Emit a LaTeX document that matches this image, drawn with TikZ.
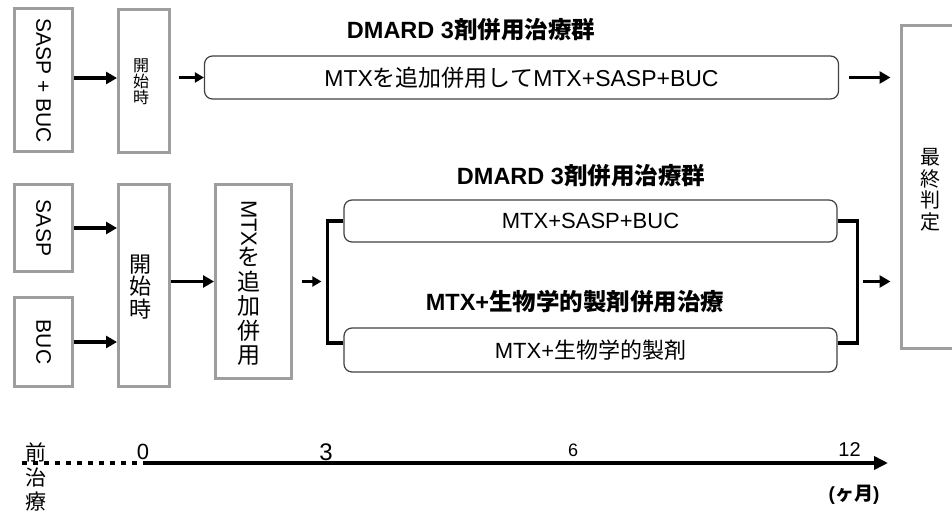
\documentclass[tikz,border=0pt]{standalone}
\usepackage{fontspec}
\usepackage{graphicx}
\usepackage{tikz}
\setmainfont{Liberation Sans}
\newfontfamily\jpfont{Noto Sans CJK JP}
\newcommand{\ja}[1]{{\jpfont #1}}
\usetikzlibrary{arrows.meta}
\usetikzlibrary{calc}
\definecolor{boxgray}{rgb}{0.62, 0.62, 0.62}
\definecolor{edgegray}{rgb}{0.25, 0.25, 0.25}

\begin{document}
\begin{tikzpicture}[x=1pt, y=-1pt,
    graybox/.style={draw=boxgray, line width=3pt, fill=white, inner sep=0pt},
    roundbox/.style={draw=edgegray, line width=1.2pt, rounded corners=8pt, inner sep=0pt},
    fatarrow/.style={line width=3.5pt, -{Triangle[length=11pt,width=12pt]}},
    thinarrow/.style={line width=3pt, -{Triangle[length=9pt,width=10pt]}},
    bracket/.style={line width=3.5pt},
    txt/.style={font=\fontsize{22}{25}\selectfont},
    ttl/.style={font=\bfseries\fontsize{23.5}{26}\selectfont},
    vtxt/.style={align=center, inner sep=0pt}]

    \useasboundingbox (0,0) rectangle (952,513);

    % Ligne du haut
    \node[graybox, minimum width=58pt, minimum height=143pt, font=\fontsize{21}{25}\selectfont] (sb) at (43.5,80.5) {\rotatebox{-90}{SASP + BUC}};
    \node[graybox, minimum width=51pt, minimum height=143pt] (st1) at (144,81) {};
    \node[vtxt, font=\jpfont\fontsize{16}{16}\selectfont] (st1txt) at (141,82) {開\\始\\時};
    \node[roundbox, minimum width=634pt, minimum height=43pt, font=\fontsize{23}{25}\selectfont] (t1) at (521.5,77.5) {MTX\ja{を追加併用して}MTX+SASP+BUC};
    \node[ttl] (ttl1) at (471,30) {DMARD 3\ja{剤併用治療群}};

    % Case finale
    \node[graybox, minimum width=62pt, minimum height=323pt] (fin) at (932,187) {};
    \node[vtxt, font=\jpfont\fontsize{20}{21.5}\selectfont] (fintxt) at (930,190) {最\\終\\判\\定};

    \draw[fatarrow] (sb.east |- 0,78) -- (st1.west |- 0,78);
    \draw[thinarrow] ([xshift=8pt]st1.east |- t1.west) -- (t1.west);
    \draw[fatarrow] ([xshift=10pt]t1.east) -- ($(t1.east -| fin.west)+(-9,0)$);

    % Ligne du bas
    \node[graybox, minimum width=58pt, minimum height=87pt, font=\fontsize{21}{25}\selectfont] (sasp) at (43.5,228) {\rotatebox{-90}{SASP}};
    \node[graybox, minimum width=58pt, minimum height=89pt, font=\fontsize{21}{25}\selectfont] (buc) at (43.5,342) {\rotatebox{-90}{BUC}};
    \node[graybox, minimum width=51pt, minimum height=202pt] (st2) at (144,285.5) {};
    \node[vtxt, font=\jpfont\fontsize{22}{22.5}\selectfont] (st2txt) at (140,287) {開\\始\\時};
    \node[graybox, minimum width=76pt, minimum height=194pt] (mtx) at (253.5,281.5) {};
    \node[vtxt, font=\jpfont\fontsize{23}{24.5}\selectfont] (mtxtxt) at (249,283) {\rotatebox{-90}{\normalfont\fontsize{22}{24}\selectfont MTX}\\を\\追\\加\\併\\用};

    \node[roundbox, minimum width=493pt, minimum height=42pt, txt] (r2) at (590.5,221) {MTX+SASP+BUC};
    \node[roundbox, minimum width=493pt, minimum height=44pt, txt] (r3) at (590.5,350) {MTX+\ja{生物学的製剤}};
    \node[ttl] (ttl2) at (581,176) {DMARD 3\ja{剤併用治療群}};
    \node[ttl] (ttl3) at (575,302) {MTX+\ja{生物学的製剤併用治療}};

    \draw[fatarrow] (sasp.east) -- (sasp.east -| st2.west);
    \draw[fatarrow] (buc.east) -- (buc.east -| st2.west);
    \draw[fatarrow] (mtx.west -| st2.east) -- (mtx.west);

    % Accolades
    \draw[bracket] (r2.west) -- ++(-16,0) coordinate (lbt) |- ([yshift=7pt]r3.west);
    \draw[bracket] (r2.east) -- ++(20,0) coordinate (rbt) |- ([yshift=7pt]r3.east);
    \coordinate (lbm) at (lbt |- mtx.east);
    \coordinate (rbm) at (rbt |- mtx.east);
    \draw[thinarrow] ([xshift=9pt]mtx.east) -- ([xshift=-6pt]lbm);
    \draw[fatarrow] ([xshift=5pt]rbm) -- ($(rbm -| fin.west)+(-9,0)$);

    % Axe du temps
    \coordinate (pre) at (22,463);
    \coordinate (zero) at (143,463);
    \coordinate (end) at (888,463);
    \draw[line width=4pt, dash pattern=on 4.5pt off 6.5pt] (pre) -- (zero);
    \draw[line width=4pt, -{Triangle[length=14pt,width=13pt]}] (zero) -- (end);

    \node[vtxt, font=\jpfont\fontsize{21}{24.5}\selectfont] (pretxt) at (36,477) {前\\治\\療};
    \node[font=\fontsize{22}{24}\selectfont] (m0) at (143,452) {0};
    \node[font=\fontsize{24}{26}\selectfont] (m3) at (326,452) {3};
    \node[font=\fontsize{18}{20}\selectfont] (m6) at (573,450) {6};
    \node[font=\fontsize{20}{22}\selectfont] (m12) at (849.5,450) {12};
    \node[font=\bfseries\fontsize{19}{21}\selectfont] (unit) at (854,495) {(\ja{ヶ月})};
\end{tikzpicture}
\end{document}
